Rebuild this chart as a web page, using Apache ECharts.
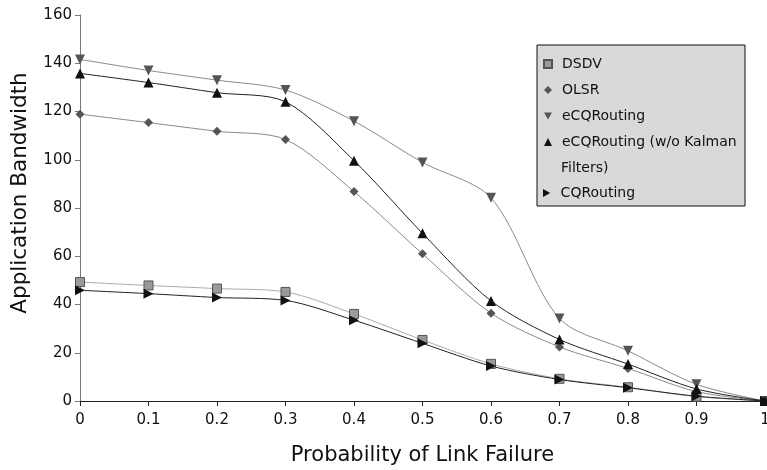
<!DOCTYPE html>
<html>
<head>
<meta charset="utf-8">
<script src="https://cdn.jsdelivr.net/npm/echarts@6/dist/echarts.min.js"></script>
<style>
html,body{margin:0;padding:0;background:#fff;}
#chart{width:767px;height:470px;}
</style>
</head>
<body>
<div id="chart"></div>
<script>
var categories = ['0','0.1','0.2','0.3','0.4','0.5','0.6','0.7','0.8','0.9','1'];
var dsdv = [49.3, 47.9, 46.6, 45.2, 36.1, 25.3, 15.4, 9.2, 5.7, 1.8, 0];
var olsr = [118.9, 115.4, 111.8, 108.4, 86.8, 61, 36.4, 22.4, 13.5, 3.9, 0];
var ecq = [141.6, 137, 133, 128.9, 116, 98.9, 84.2, 34.2, 20.8, 6.9, 0];
var ecqNoKalman = [135.8, 132, 127.8, 124, 99.6, 69.5, 41.5, 25.5, 15.3, 5, 0];
var cqRouting = [45.9, 44.5, 42.9, 41.7, 33.5, 23.9, 14.5, 8.9, 5.5, 2, 0];
var yTicks = {min: 0, max: 160, interval: 20};

var FONT = 'DejaVu Sans';
var DOWN = 'path://M0,0L10,0L5,9Z';
var RIGHT = 'path://M0,0L9,5L0,10Z';

function mk(name, data, lineColor, symbol, size, fill, border) {
  return {
    name: name, type: 'line', data: data, smooth: 0.3,
    symbol: symbol, symbolSize: size, showSymbol: true,
    lineStyle: {color: lineColor, width: 1},
    itemStyle: {color: fill, borderColor: border || fill, borderWidth: border ? 1 : 0},
    emphasis: {disabled: true}, z: 3
  };
}

var chart = echarts.init(document.getElementById('chart'), null, {renderer: 'canvas'});
chart.setOption({
  animation: false,
  backgroundColor: '#ffffff',
  grid: {left: 80, right: 2, top: 15, bottom: 69, containLabel: false, outerBoundsMode: 'none'},
  xAxis: {
    type: 'category', data: categories, boundaryGap: false,
    name: 'Probability of Link Failure', nameLocation: 'middle', nameGap: 44,
    nameTextStyle: {fontFamily: FONT, fontSize: 21, color: '#111'},
    axisLine: {lineStyle: {color: '#222', width: 1}},
    axisTick: {show: true, length: 5, lineStyle: {color: '#222'}},
    axisLabel: {fontFamily: FONT, fontSize: 15, color: '#111', margin: 12, interval: 0},
    splitLine: {show: false}
  },
  yAxis: {
    type: 'value', min: yTicks.min, max: yTicks.max, interval: yTicks.interval,
    axisLine: {show: true, lineStyle: {color: '#777', width: 1}},
    axisTick: {show: true, length: 5, lineStyle: {color: '#777'}},
    axisLabel: {fontFamily: FONT, fontSize: 15, color: '#111', margin: 8},
    splitLine: {show: false}
  },
  graphic: [
    {type: 'rect', shape: {x: 537, y: 45, width: 208, height: 161},
     style: {fill: '#d9d9d9', stroke: '#111', lineWidth: 1}, z: 1},
    {type: 'text', x: 561, y: 168,
     style: {text: 'Filters)', font: '14px "DejaVu Sans"', fill: '#111', verticalAlign: 'middle', align: 'left'}, z: 5},
    {type: 'text', x: 20, y: 193, rotation: Math.PI / 2,
     style: {text: 'Application Bandwidth', font: '21.5px "DejaVu Sans"', fill: '#111', verticalAlign: 'middle', align: 'center'}, z: 5}
  ],
  legend: [
    {
      orient: 'vertical', left: 543, top: 51, padding: 0, itemGap: 0,
      itemWidth: 8, itemHeight: 8, selectedMode: false,
      textStyle: {fontFamily: FONT, fontSize: 14, color: '#111', lineHeight: 26, padding: [0, 0, 0, 5]},
      formatter: function (n) { return n === 'eCQRouting (w/o Kalman Filters)' ? 'eCQRouting (w/o Kalman' : n; },
      data: [
        {name: 'DSDV', icon: 'rect'},
        {name: 'OLSR', icon: 'diamond'},
        {name: 'eCQRouting', icon: DOWN},
        {name: 'eCQRouting (w/o Kalman Filters)', icon: 'triangle'}
      ]
    },
    {
      orient: 'vertical', left: 543, top: 180, padding: 0, itemGap: 0,
      itemWidth: 8, itemHeight: 8, selectedMode: false,
      textStyle: {fontFamily: FONT, fontSize: 14, color: '#111', lineHeight: 26, padding: [0, 0, 0, 5]},
      data: [{name: 'CQRouting', icon: RIGHT}]
    }
  ],
  series: [
    mk('DSDV', dsdv, '#aaaaaa', 'rect', 9, '#9a9a9a', '#555555'),
    mk('OLSR', olsr, '#888888', 'diamond', 9, '#555555'),
    mk('eCQRouting', ecq, '#8a8a8a', DOWN, 10, '#555555'),
    mk('eCQRouting (w/o Kalman Filters)', ecqNoKalman, '#222222', 'triangle', 10, '#111111'),
    mk('CQRouting', cqRouting, '#222222', RIGHT, 10, '#111111')
  ]
});
</script>
</body>
</html>
